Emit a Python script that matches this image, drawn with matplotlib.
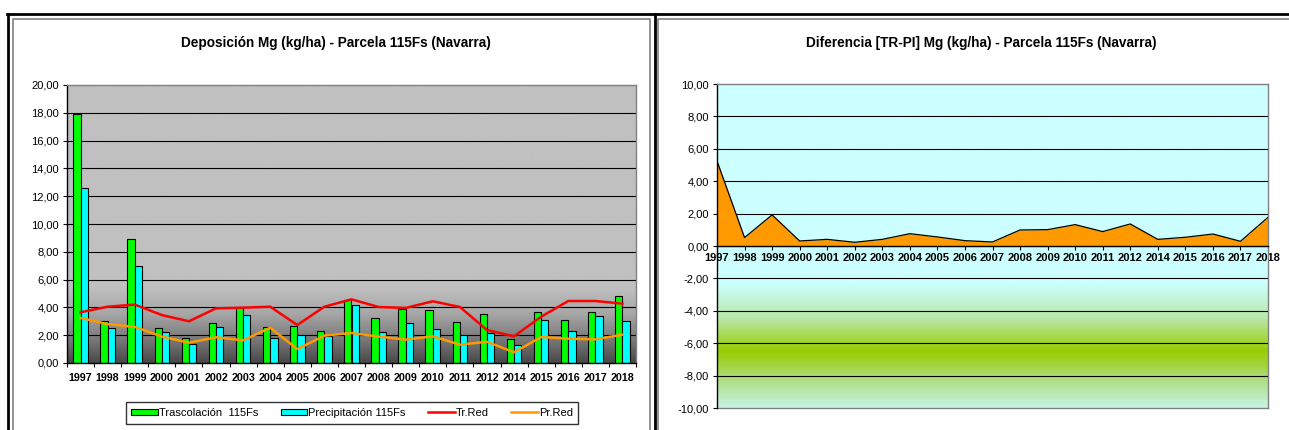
import numpy as np
import matplotlib.pyplot as plt
from matplotlib.colors import to_rgb
from matplotlib.lines import Line2D
from matplotlib.patches import Patch

plt.rcParams["font.family"] = ["Liberation Sans", "DejaVu Sans"]

years = ["1997", "1998", "1999", "2000", "2001", "2002", "2003", "2004", "2005", "2006", "2007",
         "2008", "2009", "2010", "2011", "2012", "2014", "2015", "2016", "2017", "2018"]
trascolacion = [17.90, 3.05, 8.92, 2.54, 1.82, 2.88, 3.93, 2.57, 2.69, 2.33, 4.53,
                3.21, 3.88, 3.79, 2.97, 3.55, 1.73, 3.65, 3.07, 3.69, 4.84]
precipitacion = [12.60, 2.54, 6.95, 2.23, 1.39, 2.61, 3.48, 1.77, 2.04, 1.94, 4.20,
                 2.21, 2.85, 2.47, 2.04, 2.16, 1.29, 3.12, 2.33, 3.36, 3.05]
tr_red = [3.65, 4.05, 4.20, 3.45, 3.00, 3.93, 3.98, 4.05, 2.73, 4.05, 4.58,
          4.03, 3.96, 4.44, 4.03, 2.37, 1.92, 3.33, 4.46, 4.46, 4.27]
pr_red = [3.24, 2.80, 2.60, 1.90, 1.46, 1.85, 1.63, 2.54, 1.00, 1.97, 2.16,
          1.90, 1.68, 1.92, 1.32, 1.53, 0.77, 1.87, 1.75, 1.70, 2.04]
diferencia = [5.25, 0.52, 1.92, 0.31, 0.41, 0.23, 0.41, 0.76, 0.56, 0.33, 0.25,
              0.99, 1.01, 1.32, 0.89, 1.36, 0.41, 0.54, 0.74, 0.29, 1.77]

W, H = 1289, 430


def fmt(v):
    return f"{v:.2f}".replace(".", ",")


def vertical_gradient(ax, extent, stops, n=400):
    # stops: list of (y value, colour), drawn as a background image
    y0, y1 = extent[2], extent[3]
    ys = np.linspace(y0, y1, n)
    sy = [s[0] for s in stops]
    cols = np.array([to_rgb(s[1]) for s in stops])
    img = np.stack([np.interp(ys, sy, cols[:, k]) for k in range(3)], axis=-1)
    img = img[::-1, None, :]
    ax.imshow(img, extent=extent, aspect="auto", zorder=0, interpolation="bilinear")


fig = plt.figure(figsize=(W / 100, H / 100), dpi=100)


def px_box(x0, y0, x1, y1):
    return [x0 / W, 1 - y1 / H, (x1 - x0) / W, (y1 - y0) / H]


def fig_line(xs, ys, color, lw):
    fig.add_artist(Line2D([x / W for x in xs], [1 - y / H for y in ys],
                          color=color, lw=lw, transform=fig.transFigure))


# frames around both charts
fig_line([7, 1289], [14, 14], "black", 2.0)
fig_line([8, 8], [14, 431], "black", 2.0)
fig_line([655, 655], [14, 431], "black", 2.0)
fig_line([13, 13, 650, 650], [431, 19, 19, 431], "#808080", 1.2)
fig_line([658, 658, 1289], [431, 19, 19], "#808080", 1.2)

x = np.arange(len(years))

# --- left chart: deposition bars and lines ---
ax1 = fig.add_axes(px_box(67, 85, 636, 363))
vertical_gradient(ax1, [-0.5, len(years) - 0.5, 0, 20],
                  [(0, "#484848"), (1.5, "#747474"), (3.5, "#a6a6a6"), (5.5, "#c0c0c0"), (20, "#c0c0c0")])
bw = 0.27
ax1.bar(x - bw / 2, trascolacion, bw, color="#00ff00", edgecolor="black", lw=0.8, zorder=3)
ax1.bar(x + bw / 2, precipitacion, bw, color="#00ffff", edgecolor="black", lw=0.8, zorder=3)
ax1.plot(x, tr_red, color="#ff0000", lw=1.8, zorder=4)
ax1.plot(x, pr_red, color="#ff9900", lw=1.8, zorder=4)
ax1.set_xlim(-0.5, len(years) - 0.5)
ax1.set_ylim(0, 20)
ax1.set_yticks(np.arange(0, 21, 2))
ax1.set_yticklabels([fmt(v) for v in np.arange(0, 21, 2)], fontsize=8)
for v in np.arange(2, 20, 2):
    ax1.axhline(v, color="black", lw=0.8, zorder=1)
ax1.set_xticks(x)
ax1.set_xticklabels(years, fontsize=7.7, fontweight="bold")
ax1.set_xticks(np.arange(-0.5, len(years), 1), minor=True)
ax1.tick_params(axis="x", which="major", length=0, pad=7)
ax1.tick_params(axis="x", which="minor", length=3, direction="out", width=0.8)
ax1.tick_params(axis="y", length=3, width=0.8, pad=3)
ax1.spines["top"].set_color("#808080")
ax1.spines["right"].set_color("#808080")
for s in ax1.spines.values():
    s.set_linewidth(1.0)
    s.set_zorder(5)
ax1.set_title("Deposición Mg (kg/ha) - Parcela 115Fs (Navarra)", fontsize=9.8,
              fontweight="bold", x=0.473, y=1 + (85 - 47) / 278, pad=0)

handles = [
    Patch(facecolor="#00ff00", edgecolor="black", lw=0.8),
    Patch(facecolor="#00ffff", edgecolor="black", lw=0.8),
    Line2D([], [], color="#ff0000", lw=1.8),
    Line2D([], [], color="#ff9900", lw=1.8),
]
labels = ["Trascolación  115Fs", "Precipitación 115Fs", "Tr.Red", "Pr.Red"]
leg = fig.legend(handles, labels, loc="center", bbox_to_anchor=(352 / W, 1 - 413 / H),
                 ncol=4, fontsize=8, frameon=True, fancybox=False, handlelength=2.4,
                 handleheight=0.5, handletextpad=0.1, columnspacing=2.0, borderpad=0.5)
leg.get_frame().set_edgecolor("black")
leg.get_frame().set_linewidth(1.0)

# --- right chart: TR - PI difference ---
ax2 = fig.add_axes(px_box(717, 84, 1268, 408))
ax2.spines["bottom"].set_position(("data", 0))
vertical_gradient(ax2, [0, len(years) - 1, -10, 10],
                  [(-10, "#c8f4e4"), (-8.5, "#b0e090"), (-6.5, "#99cc00"), (-4.5, "#b8e8a8"),
                   (-2.3, "#ccffff"), (10, "#ccffff")])
for v in np.arange(-8, 10, 2):
    ax2.axhline(v, color="black", lw=0.8, zorder=1)
ax2.fill_between(x, 0, diferencia, color="#ff9900", lw=0, zorder=2)
ax2.plot(x, diferencia, color="black", lw=0.9, zorder=3)
ax2.set_xlim(0, len(years) - 1)
ax2.set_ylim(-10, 10)
ax2.set_yticks(np.arange(-10, 11, 2))
ax2.set_yticklabels([fmt(v) for v in np.arange(-10, 11, 2)], fontsize=8)
ax2.set_xticks(x)
ax2.set_xticklabels(years, fontsize=8, fontweight="bold")
ax2.tick_params(axis="x", length=3, direction="out", width=0.8, pad=2)
ax2.tick_params(axis="y", length=3, width=0.8, pad=3)
ax2.spines["top"].set_color("#808080")
ax2.spines["right"].set_color("#808080")
for s in ax2.spines.values():
    s.set_linewidth(1.0)
    s.set_zorder(5)
ax2.axhline(-10, color="#808080", lw=1.0, clip_on=False, zorder=5)
ax2.set_title("Diferencia [TR-PI] Mg (kg/ha) - Parcela 115Fs (Navarra)", fontsize=9.8,
              fontweight="bold", x=0.479, y=1 + (84 - 47) / 324, pad=0)

fig.savefig("out.png", dpi=100)
